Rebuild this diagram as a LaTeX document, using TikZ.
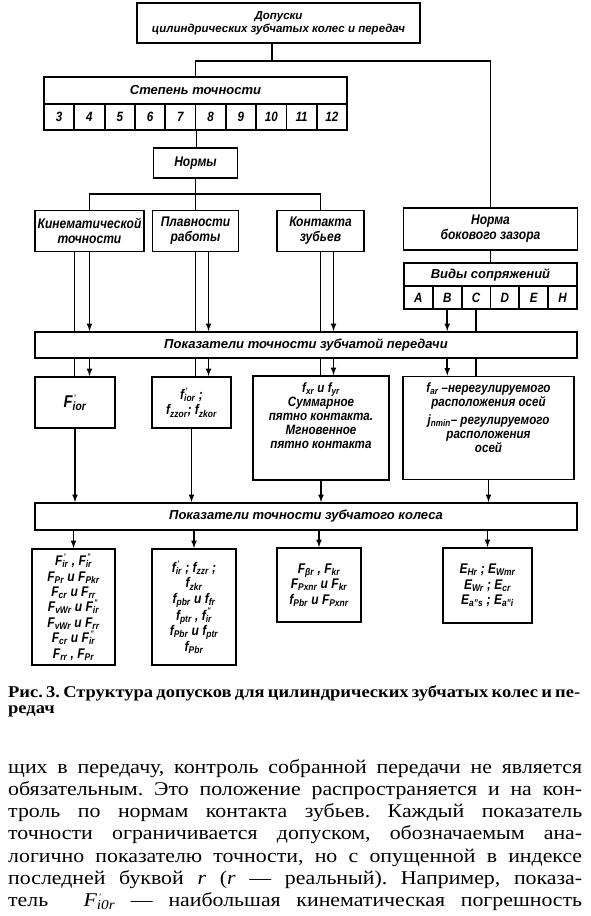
\documentclass[tikz,border=0pt]{standalone}
\usepackage{fontspec}
\setmainfont{Liberation Sans}
\newfontfamily\narrowsans{Liberation Sans}[FakeStretch=0.86]
\newfontfamily\bookfont{Liberation Serif}[FakeStretch=1.12]
\usepackage{tikz}
\usetikzlibrary{arrows}
\usetikzlibrary{calc}
\frenchspacing

\newcommand{\subx}[1]{\textsubscript{#1}}
\newcommand{\supsubx}[2]{\rlap{\kern1.2pt\raisebox{0.85ex}{\footnotesize #1}}\textsubscript{#2}}

\begin{document}
\begin{tikzpicture}[
  normbox/.style={shape = rectangle, draw=black, line width=1.8pt, align=center, inner sep=1pt, font=\narrowsans\bfseries\itshape\fontsize{14}{15}\selectfont},
  widebox/.style={normbox, font=\bfseries\itshape\fontsize{13}{14}\selectfont},
  digitbox/.style={normbox, font=\narrowsans\bfseries\itshape\fontsize{13.5}{14}\selectfont},
  formbox/.style={normbox, font=\narrowsans\bfseries\itshape\fontsize{14}{15.4}\selectfont},
  wire/.style={line width=1.6pt},
  wirearr/.style={->, >=latex, line width=1.6pt}]
\useasboundingbox (0pt,0pt) rectangle (590pt,-916pt);

\node[widebox, minimum width=283pt, minimum height=40pt, font=\bfseries\itshape\fontsize{11.5}{12.5}\selectfont] (dopuski) at (278.5pt,-23pt) {Допуски\\цилиндрических зубчатых колес и передач};
\node[widebox, minimum width=303pt, minimum height=27pt] (stepen) at (195.5pt,-90.5pt) {Степень точности};
\foreach \n [count=\i] in {3,...,12}
  {\node[digitbox, minimum width=30.3pt, minimum height=26pt] (st\n) at (28.85pt+\i*30.3pt,-117pt) {\n};}
\node[normbox, minimum width=84pt, minimum height=30pt] (normy) at (195.5pt,-163pt) {Нормы};

% нормы
\node[normbox, minimum width=109pt, minimum height=41pt] (kinem) at (89.5pt,-231pt) {Кинематической\\точности};
\node[normbox, minimum width=86pt, minimum height=41pt] (plavn) at (195.5pt,-231pt) {Плавности\\работы};
\node[normbox, minimum width=87pt, minimum height=41pt] (kontakt) at (320.5pt,-231pt) {Контакта\\зубьев};
\node[normbox, minimum width=174pt, minimum height=42pt] (norma) at (490.5pt,-229pt) {Норма\\бокового зазора};
\node[widebox, minimum width=173pt, minimum height=23pt] (vidy) at (490.5pt,-274.5pt) {Виды сопряжений};
\foreach \v [count=\i] in {A,B,C,D,E,H}
  {\node[digitbox, minimum width=28.83pt, minimum height=23pt] (vs\v) at (389.6pt+\i*28.83pt,-297.5pt) {\v};}

\node[widebox, minimum width=542pt, minimum height=26pt] (pokper) at (306pt,-345pt) {Показатели точности зубчатой передачи};

% показатели передачи
\node[formbox, minimum width=80pt, minimum height=51pt, font=\narrowsans\bfseries\itshape\fontsize{17}{18}\selectfont] (perkin) at (75pt,-402.5pt) {F\supsubx{’}{ior}};
\node[formbox, minimum width=79pt, minimum height=51pt] (perplav) at (191.5pt,-402.5pt) {f\supsubx{’}{ior} ;\hspace{24pt}\\f\subx{zzor}; f\subx{zkor}};
\node[formbox, minimum width=136pt, minimum height=104pt, font=\narrowsans\bfseries\itshape\fontsize{13.5}{14}\selectfont] (perkont) at (321pt,-428pt) {\parbox[c][96pt][t]{130pt}{\centering\vspace{3pt}f\subx{xr} и f\subx{yr}\\Суммарное\\пятно контакта.\\Мгновенное\\пятно контакта}};
\node[formbox, minimum width=171pt, minimum height=103pt, font=\narrowsans\bfseries\itshape\fontsize{13.5}{14}\selectfont] (perzaz) at (488.5pt,-428pt) {\parbox[c][95pt][t]{165pt}{\centering\vspace{2pt}f\subx{ar} –нерегулируемого\\расположения осей\\[4pt]j\subx{nmin}– регулируемого\\расположения\\осей}};

\node[widebox, minimum width=542pt, minimum height=27pt] (pokkol) at (306pt,-516.5pt) {Показатели точности зубчатого колеса};

% показатели колеса
\node[formbox, minimum width=83pt, minimum height=116pt] (kolkin) at (73.5pt,-607pt) {F\supsubx{’}{ir} , F\supsubx{”}{ir}\\F\subx{Pr} и F\subx{Pkr}\\F\subx{cr} и F\subx{rr}\\F\subx{vWr} и F\supsubx{”}{ir}\\F\subx{vWr} и F\subx{rr}\\F\subx{cr} и F\supsubx{”}{ir}\\F\subx{rr} , F\subx{Pr}};
\node[formbox, minimum width=84pt, minimum height=116pt] (kolplav) at (194pt,-607pt) {f\supsubx{’}{ir} ; f\subx{zzr} ;\\f\subx{zkr}\\f\subx{pbr} и f\subx{fr}\\f\subx{ptr} , f\supsubx{”}{ir}\\f\subx{Pbr} и f\subx{ptr}\\f\subx{Pbr}};
\node[formbox, minimum width=84pt, minimum height=74pt] (kolkont) at (319pt,-585pt) {F\subx{βr} , F\subx{kr}\\F\subx{Pxnr} и F\subx{kr}\\f\subx{Pbr} и F\subx{Pxnr}};
\node[formbox, minimum width=89pt, minimum height=75pt] (kolzaz) at (487.5pt,-585.5pt) {E\subx{Hr} ; E\subx{Wmr}\\E\subx{Wr} ; E\subx{cr}\\E\subx{a”s} ; E\subx{a”i}};

% связи
\coordinate (split) at ($(dopuski.south)+(-6.5pt,-17pt)$);
\draw[wire] (split |- dopuski.south) -- (split);
\draw[wire] (stepen.north) |- (split) -| (norma.north);
\draw[wire] (st7.south east) -- (st7.south east |- normy.north);
\coordinate (fork) at ($(normy.south)+(0pt,-15pt)$);
\draw[wire] (normy.south) -- (plavn.north);
\draw[wire] (kinem.north) |- (fork) -| (kontakt.north);
\draw[wire] (norma.south) -- (vidy.north);

\coordinate (Pkin) at ([xshift=-15pt]kinem.south);
\coordinate (Akin) at (kinem.south);
\coordinate (Pplav) at (plavn.south);
\coordinate (Aplav) at ([xshift=13pt]plavn.south);
\coordinate (Pkont) at (kontakt.south);
\coordinate (Akont) at ([xshift=13pt]kontakt.south);
\coordinate (Pzaz) at (vsC.south);
\coordinate (Azaz) at (vsB.south);
\foreach \grp/\ib in {kin/perkin, plav/perplav, kont/perkont, zaz/perzaz}
  {\draw[wire] (P\grp) -- (P\grp |- pokper.north);
   \draw[wire] (P\grp |- pokper.south) -- (P\grp |- \ib.north);
   \draw[wirearr] (A\grp) -- (A\grp |- pokper.north);
   \draw[wirearr] (A\grp |- pokper.south) -- (A\grp |- \ib.north);}
\foreach \ib/\kb in {perkin/kolkin, perplav/kolplav, perkont/kolkont, perzaz/kolzaz}
  {\draw[wirearr] (\ib.south) -- (\ib.south |- pokkol.north);
   \draw[wirearr] (\kb.north |- pokkol.south) -- (\kb.north);}

% подпись и текст
\node[anchor=base west, inner sep=0pt, font=\bookfont\bfseries\fontsize{16.5}{17}\selectfont] (capt1) at (8pt,-697pt) {\hbox to 572pt{Рис. 3. Структура допусков для цилиндрических зубчатых колес и пе-}};
\node[anchor=base west, inner sep=0pt, font=\bookfont\bfseries\fontsize{16.5}{17}\selectfont] (capt2) at (8pt,-713pt) {редач};
\foreach \ln [count=\i] in {{щих в передачу, контроль собранной передачи не является},
  {обязательным. Это положение распространяется и на кон-},
  {троль по нормам контакта зубьев. Каждый показатель},
  {точности ограничивается допуском, обозначаемым ана-},
  {логично показателю точности, но с опущенной в индексе},
  {последней буквой \textit{r} (\textit{r} — реальный). Например, показа-},
  {тель \quad \textit{F\supsubx{’}{i0r}} — наибольшая кинематическая погрешность}}
  {\node[anchor=base west, inner sep=0pt, font=\bookfont\fontsize{19.5}{22}\selectfont] (line\i) at (8pt,-750.7pt-\i*22.3pt) {\hbox to 574pt{\ln}};}

\end{tikzpicture}
\end{document}
